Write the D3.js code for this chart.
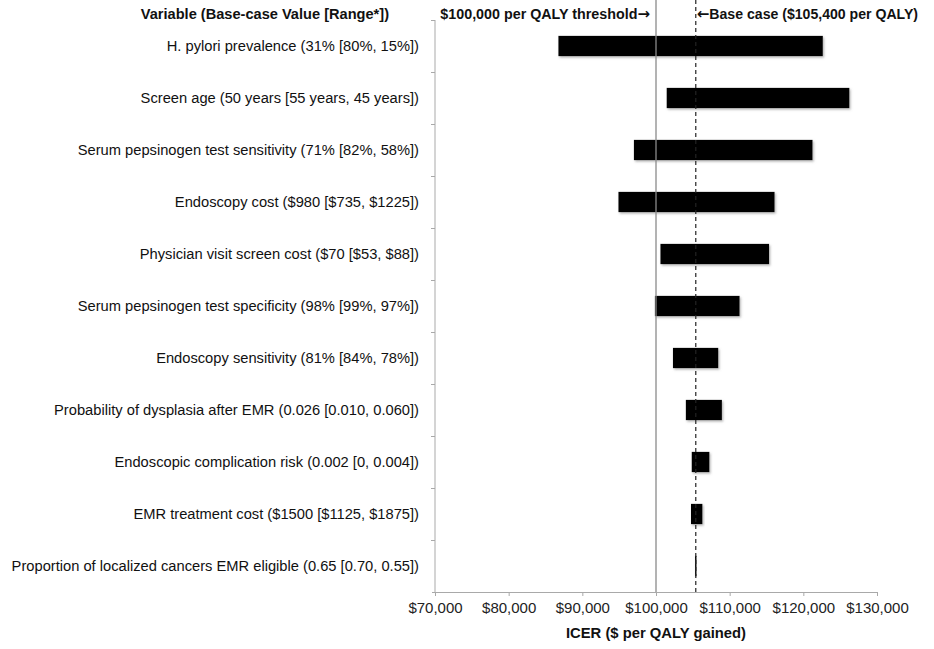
<!DOCTYPE html>
<html>
<head>
<meta charset="utf-8">
<script src="https://cdn.jsdelivr.net/npm/d3@7"></script>
<style>
  html, body { margin: 0; padding: 0; background: #fff; }
  svg { display: block; font-family: "Liberation Sans", Arial, sans-serif; }
</style>
</head>
<body>
<svg id="chart" width="934" height="649"></svg>
<script>
// One-way sensitivity analysis (tornado diagram)
const variables = [
  "H. pylori prevalence (31% [80%, 15%])",
  "Screen age (50 years [55 years, 45 years])",
  "Serum pepsinogen test sensitivity (71% [82%, 58%])",
  "Endoscopy cost ($980 [$735, $1225])",
  "Physician visit screen cost ($70 [$53, $88])",
  "Serum pepsinogen test specificity (98% [99%, 97%])",
  "Endoscopy sensitivity (81% [84%, 78%])",
  "Probability of dysplasia after EMR (0.026 [0.010, 0.060])",
  "Endoscopic complication risk (0.002 [0, 0.004])",
  "EMR treatment cost ($1500 [$1125, $1875])",
  "Proportion of localized cancers EMR eligible (0.65 [0.70, 0.55])"
];
const icerLow  = [86750, 101450, 97000, 94900, 100600, 99850, 102300, 104050, 104850, 104750, 105300];
const icerHigh = [122650, 126250, 121250, 116100, 115350, 111350, 108450, 108950, 107250, 106300, 105500];
const xTicks = [70000, 80000, 90000, 100000, 110000, 120000, 130000];
const thresholdValue = 100000;
const baseCaseValue = 105400;

const svg = d3.select("#chart");
const margin = { left: 435, right: 57, top: 20, bottom: 57 };
const W = 934, H = 649;

const x = d3.scaleLinear().domain([70000, 130000]).range([margin.left, W - margin.right]);
const y = d3.scaleBand().domain(variables).range([margin.top, H - margin.bottom]).paddingInner(0.61).paddingOuter(0.305);
const yEdge = d3.scaleBand().domain(variables).range([margin.top, H - margin.bottom]);

const defs = svg.append("defs");
const shadow = defs.append("filter").attr("id", "barShadow")
  .attr("x", "-10%").attr("y", "-20%").attr("width", "130%").attr("height", "160%");
shadow.append("feDropShadow").attr("dx", 1.2).attr("dy", 1.5).attr("stdDeviation", 0.9)
  .attr("flood-color", "#777").attr("flood-opacity", 0.55);

const axisColor = "#a9a9a9";
const y0 = H - margin.bottom;
const arrowFont = "'DejaVu Sans', sans-serif";

// Left category axis with tick marks between categories
svg.append("line")
  .attr("x1", margin.left).attr("x2", margin.left)
  .attr("y1", margin.top).attr("y2", y0)
  .attr("stroke", axisColor).attr("stroke-width", 1);
svg.selectAll(".ytick").data(variables).join("line")
  .attr("class", "ytick")
  .attr("x1", margin.left - 4).attr("x2", margin.left)
  .attr("y1", d => yEdge(d) + 0.5).attr("y2", d => yEdge(d) + 0.5)
  .attr("stroke", axisColor);

// Bottom value axis
const xAxis = d3.axisBottom(x).tickValues(xTicks)
  .tickFormat(d => "$" + d3.format(",")(d)).tickSizeOuter(0).tickSizeInner(4).tickPadding(6);
const gx = svg.append("g").attr("transform", `translate(0,${y0})`).call(xAxis);
gx.select(".domain").attr("stroke", axisColor).attr("d", `M${margin.left - 3},0.5H${W - margin.right}`);
gx.selectAll(".tick line").attr("stroke", axisColor);
gx.selectAll(".tick text").attr("fill", "#222").style("font-size", "15px")
  .style("font-family", "'Liberation Sans', Arial, sans-serif");

// Bars
svg.selectAll(".bar").data(variables).join("rect")
  .attr("class", "bar")
  .attr("x", (d, i) => x(icerLow[i]))
  .attr("width", (d, i) => x(icerHigh[i]) - x(icerLow[i]))
  .attr("y", d => y(d))
  .attr("height", y.bandwidth())
  .attr("fill", "#050505")
  .attr("filter", "url(#barShadow)");

// Reference lines
svg.append("line")
  .attr("x1", x(thresholdValue)).attr("x2", x(thresholdValue))
  .attr("y1", 0).attr("y2", y0)
  .attr("stroke", "#8a8a8a").attr("stroke-width", 1.3);
svg.append("line")
  .attr("x1", x(baseCaseValue)).attr("x2", x(baseCaseValue))
  .attr("y1", 0).attr("y2", y0)
  .attr("stroke", "#222").attr("stroke-width", 1.2)
  .attr("stroke-dasharray", "4,3");

// Category labels
svg.selectAll(".label").data(variables).join("text")
  .attr("class", "label")
  .attr("x", margin.left - 16)
  .attr("y", d => y(d) + y.bandwidth() / 2 + 5)
  .attr("text-anchor", "end")
  .attr("fill", "#111")
  .style("font-size", "14.7px")
  .text(d => d);

// Header and annotations
svg.append("text").attr("x", 389).attr("y", 19).attr("text-anchor", "end")
  .style("font-size", "14.6px").style("font-weight", "bold").attr("fill", "#111")
  .text("Variable (Base-case Value [Range*])");

const thr = svg.append("text").attr("x", x(thresholdValue) - 6).attr("y", 19).attr("text-anchor", "end")
  .style("font-size", "14.3px").style("font-weight", "bold").attr("fill", "#111");
thr.append("tspan").text("$100,000 per QALY threshold");
thr.append("tspan").style("font-family", arrowFont).style("font-size", "15px").text("\u2192");

const base = svg.append("text").attr("x", x(baseCaseValue) + 1).attr("y", 19).attr("text-anchor", "start")
  .style("font-size", "14.1px").style("font-weight", "bold").attr("fill", "#111");
base.append("tspan").style("font-family", arrowFont).style("font-size", "15px").text("\u2190");
base.append("tspan").text("Base case ($105,400 per QALY)");

// Axis title
svg.append("text").attr("x", (x.range()[0] + x.range()[1]) / 2).attr("y", 638)
  .attr("text-anchor", "middle")
  .style("font-size", "14.8px").style("font-weight", "bold").attr("fill", "#111")
  .text("ICER ($ per QALY gained)");
</script>
</body>
</html>
